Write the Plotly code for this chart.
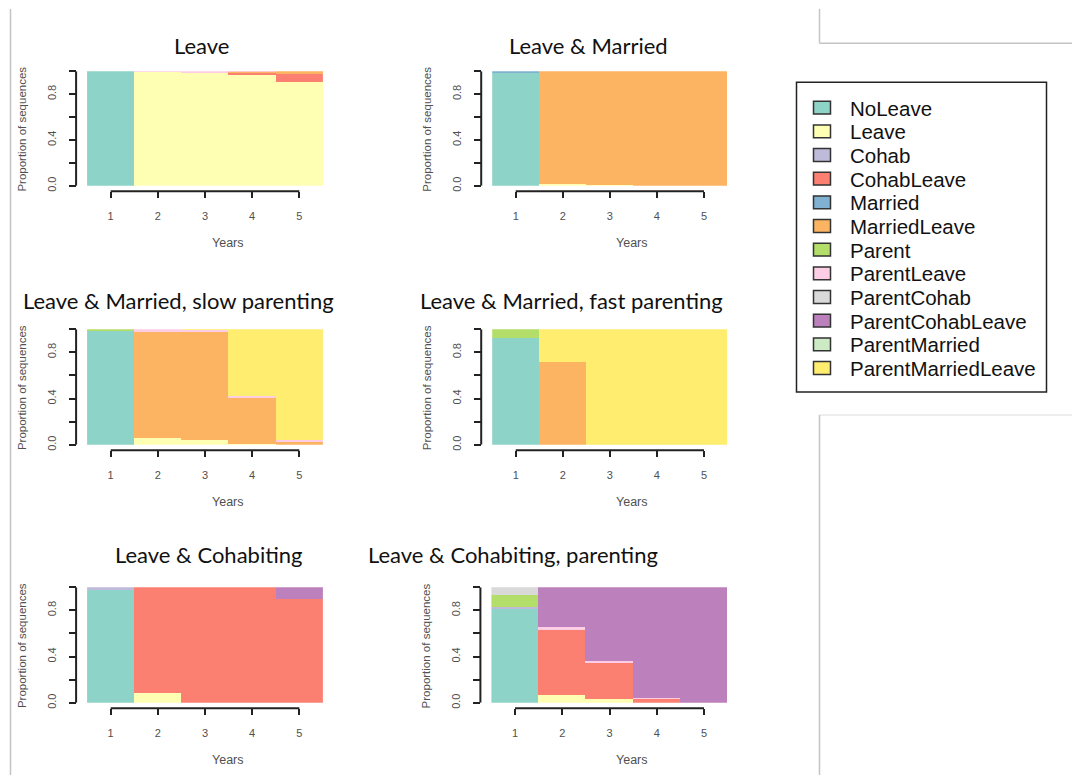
import plotly.graph_objects as go

# ---- state alphabet and colours (RColorBrewer Set3) ----
states = ["NoLeave", "Leave", "Cohab", "CohabLeave", "Married", "MarriedLeave",
          "Parent", "ParentLeave", "ParentCohab", "ParentCohabLeave",
          "ParentMarried", "ParentMarriedLeave"]
state_colors = ["#8DD3C7", "#FFFFB3", "#BEBADA", "#FB8072", "#80B1D3", "#FDB462",
                "#B3DE69", "#FCCDE5", "#D9D9D9", "#BC80BD", "#CCEBC5", "#FFED6F"]

years = [1, 2, 3, 4, 5]
y_tick_vals = [0.0, 0.2, 0.4, 0.6, 0.8, 1.0]
y_tick_text = ["0.0", "", "0.4", "", "0.8", ""]

# ---- state distributions per cluster (proportion of sequences per year) ----
leave = {
    "NoLeave":      [1.000, 0.000, 0.000, 0.000, 0.000],
    "Leave":        [0.000, 0.995, 0.990, 0.965, 0.900],
    "CohabLeave":   [0.000, 0.000, 0.000, 0.025, 0.072],
    "MarriedLeave": [0.000, 0.000, 0.000, 0.005, 0.028],
    "ParentLeave":  [0.000, 0.005, 0.010, 0.005, 0.000],
}
leave_married = {
    "NoLeave":      [0.985, 0.000, 0.000, 0.000, 0.000],
    "Leave":        [0.000, 0.017, 0.005, 0.000, 0.000],
    "Married":      [0.015, 0.000, 0.000, 0.000, 0.000],
    "MarriedLeave": [0.000, 0.983, 0.995, 1.000, 1.000],
}
married_slow = {
    "NoLeave":            [0.990, 0.000, 0.000, 0.000, 0.000],
    "Leave":              [0.000, 0.057, 0.043, 0.005, 0.000],
    "MarriedLeave":       [0.000, 0.918, 0.932, 0.403, 0.030],
    "Parent":             [0.010, 0.000, 0.000, 0.000, 0.000],
    "ParentLeave":        [0.000, 0.025, 0.020, 0.012, 0.012],
    "ParentMarriedLeave": [0.000, 0.000, 0.005, 0.580, 0.958],
}
married_fast = {
    "NoLeave":            [0.922, 0.000, 0.000, 0.000, 0.000],
    "MarriedLeave":       [0.000, 0.714, 0.000, 0.000, 0.000],
    "Parent":             [0.078, 0.000, 0.000, 0.000, 0.000],
    "ParentMarriedLeave": [0.000, 0.286, 1.000, 1.000, 1.000],
}
cohabiting = {
    "NoLeave":          [0.977, 0.000, 0.000, 0.000, 0.000],
    "Leave":            [0.000, 0.086, 0.000, 0.000, 0.000],
    "Cohab":            [0.023, 0.000, 0.000, 0.000, 0.000],
    "CohabLeave":       [0.000, 0.914, 1.000, 1.000, 0.894],
    "ParentCohabLeave": [0.000, 0.000, 0.000, 0.000, 0.106],
}
cohab_parenting = {
    "NoLeave":          [0.814, 0.000, 0.000, 0.000, 0.000],
    "Leave":            [0.000, 0.070, 0.034, 0.000, 0.000],
    "Cohab":            [0.016, 0.000, 0.000, 0.000, 0.000],
    "CohabLeave":       [0.000, 0.558, 0.314, 0.034, 0.000],
    "Parent":           [0.104, 0.000, 0.000, 0.000, 0.000],
    "ParentLeave":      [0.000, 0.029, 0.015, 0.011, 0.000],
    "ParentCohab":      [0.066, 0.000, 0.000, 0.000, 0.000],
    "ParentCohabLeave": [0.000, 0.343, 0.637, 0.955, 1.000],
}

panel_titles = ["Leave", "Leave & Married",
                "Leave & Married, slow parenting", "Leave & Married, fast parenting",
                "Leave & Cohabiting", "Leave & Cohabiting, parenting"]
panel_data = [leave, leave_married, married_slow, married_fast, cohabiting, cohab_parenting]

# ---- page geometry (pixels) ----
W, H = 1072, 781
# plot boxes: left, right (x = 0.5 .. 5.5), bottom, top (y = 0 .. 1)
boxes = [
    (87.1, 322.9, 187.3, 71.7),
    (492.2, 727.5, 187.3, 71.7),
    (87.1, 322.9, 448.3, 331.7),
    (492.2, 727.5, 448.3, 331.7),
    (87.1, 322.9, 708.3, 591.7),
    (491.4, 727.6, 708.3, 591.7),
]
title_pos = [(201.7, 45.7), (588, 45.5), (178, 303), (571, 303), (208, 559), (512.5, 559)]

def fx(px):
    return px / W

def fy(py):
    return 1 - py / H

AXIS_COL = "#222222"
LABEL_COL = "#505050"
LABEL_FONT = "Liberation Sans, Arial, sans-serif"
TITLE_FONT = "Lato, Carlito, Calibri, sans-serif"

fig = go.Figure()
layout = dict(
    width=W, height=H, autosize=False,
    margin=dict(l=0, r=0, t=0, b=0),
    paper_bgcolor="white", plot_bgcolor="white",
    barmode="stack", bargap=0, showlegend=False,
)
shapes = []
annotations = []

for i, (data, box, title, tpos) in enumerate(zip(panel_data, boxes, panel_titles, title_pos)):
    n = "" if i == 0 else str(i + 1)
    xl, xr, yb, yt = box
    for s, c in zip(states, state_colors):
        if s in data:
            fig.add_trace(go.Bar(
                x=years, y=data[s], width=1, name=s,
                marker=dict(color=c, line=dict(width=0)),
                xaxis="x" + n, yaxis="y" + n, showlegend=False,
                hovertemplate=s + ": %{y:.3f}<extra></extra>",
            ))
    x_axis_py = yb + 5.5
    y_axis_px = xl - 11
    layout["xaxis" + n] = dict(
        domain=[fx(xl), fx(xr)], range=[0.5, 5.5],
        anchor="free", position=fy(x_axis_py),
        tickvals=years, ticks="outside", ticklen=6, tickwidth=1.5, tickcolor=AXIS_COL,
        tickfont=dict(family=LABEL_FONT, size=11, color=LABEL_COL),
        ticklabelstandoff=8,
        showgrid=False, zeroline=False, showline=False, fixedrange=True,
    )
    layout["yaxis" + n] = dict(
        domain=[fy(yb), fy(yt)], range=[0, 1],
        anchor="free", position=fx(y_axis_px),
        tickvals=y_tick_vals, ticktext=y_tick_text, tickangle=-90,
        ticks="outside", ticklen=7, tickwidth=1.5, tickcolor=AXIS_COL,
        tickfont=dict(family=LABEL_FONT, size=11, color=LABEL_COL),
        ticklabelstandoff=9,
        showgrid=False, zeroline=False, showline=False, fixedrange=True,
    )
    # R-style axis lines that only run between the outer ticks
    shapes.append(dict(type="line", xref="x" + n, yref="paper",
                       x0=years[0], x1=years[-1], y0=fy(x_axis_py), y1=fy(x_axis_py),
                       line=dict(color=AXIS_COL, width=2)))
    shapes.append(dict(type="line", xref="paper", yref="y" + n,
                       x0=fx(y_axis_px), x1=fx(y_axis_px), y0=0, y1=1,
                       line=dict(color=AXIS_COL, width=2)))
    # panel title
    annotations.append(dict(text=title, x=fx(tpos[0]), y=fy(tpos[1]),
                            xref="paper", yref="paper", showarrow=False,
                            xanchor="center", yanchor="middle",
                            font=dict(family=TITLE_FONT, size=22, color="#111111")))
    # axis titles
    annotations.append(dict(text="Years", x=fx((xl + xr) / 2 + 22.5), y=fy(yb + 58),
                            xref="paper", yref="paper", showarrow=False,
                            xanchor="center", yanchor="middle",
                            font=dict(family=LABEL_FONT, size=12.5, color=LABEL_COL)))
    annotations.append(dict(text="Proportion of sequences", x=fx(xl - 65),
                            y=fy((yb + yt) / 2 + 1), textangle=-90,
                            xref="paper", yref="paper", showarrow=False,
                            xanchor="center", yanchor="middle",
                            font=dict(family=LABEL_FONT, size=11.5, color=LABEL_COL)))

# ---- legend box ----
shapes.append(dict(type="rect", xref="paper", yref="paper",
                   x0=fx(796.5), x1=fx(1046.5), y0=fy(395), y1=fy(83),
                   line=dict(color="#222222", width=1.5), fillcolor="rgba(0,0,0,0)"))
for k, (s, c) in enumerate(zip(states, state_colors)):
    cy = 108.5 + 23.85 * k
    shapes.append(dict(type="rect", xref="paper", yref="paper",
                       x0=fx(813.5), x1=fx(830.5), y0=fy(cy + 6.5), y1=fy(cy - 6.5),
                       line=dict(color="#333333", width=1.5), fillcolor=c))
    annotations.append(dict(text=s, x=fx(848), y=fy(cy + 0.5),
                            xref="paper", yref="paper", showarrow=False,
                            xanchor="left", yanchor="middle",
                            font=dict(family=LABEL_FONT, size=20.5, color="#111111")))

# ---- slide frame lines ----
frame = [
    (10.5, 9, 10.5, 781, "#c4c4c4"),
    (819.5, 9, 819.5, 43.5, "#c4c4c4"),
    (819.5, 43.5, 1072, 43.5, "#c4c4c4"),
    (819.5, 418.3, 1072, 418.3, "#e8e8e8"),
    (819.5, 418.3, 819.5, 781, "#c4c4c4"),
]
for x0, y0, x1, y1, col in frame:
    shapes.append(dict(type="line", xref="paper", yref="paper",
                       x0=fx(x0), x1=fx(x1), y0=fy(y0), y1=fy(y1),
                       line=dict(color=col, width=1.5)))

layout["shapes"] = shapes
layout["annotations"] = annotations
fig.update_layout(**layout)
fig.write_html("out.html")
